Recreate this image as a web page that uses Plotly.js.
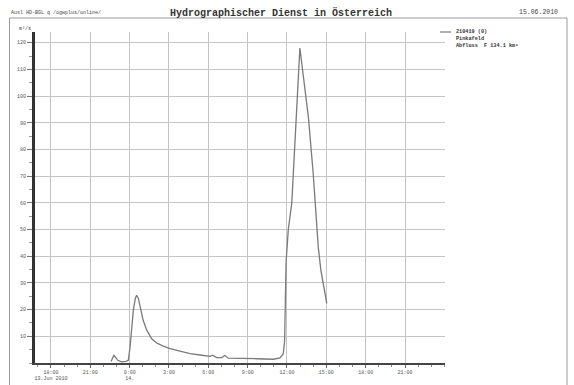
<!DOCTYPE html>
<html>
<head>
<meta charset="utf-8">
<script src="https://cdn.plot.ly/plotly-3.0.1.min.js"></script>
<style>
  html, body { margin: 0; padding: 0; background: #fff; }
  #chart { width: 574px; height: 385px; }
</style>
</head>
<body>
<div id="chart"></div>
<script>
// Discharge record, gauge 210419 Pinkafeld (m³/s)
const times = [
  '2010-06-13 22:35', '2010-06-13 22:48', '2010-06-13 23:06', '2010-06-13 23:23',
  '2010-06-13 23:43', '2010-06-13 23:54', '2010-06-14 00:02', '2010-06-14 00:09',
  '2010-06-14 00:17', '2010-06-14 00:26', '2010-06-14 00:32', '2010-06-14 00:40',
  '2010-06-14 00:51', '2010-06-14 01:02', '2010-06-14 01:18', '2010-06-14 01:41',
  '2010-06-14 02:04', '2010-06-14 02:34', '2010-06-14 03:05', '2010-06-14 03:51',
  '2010-06-14 04:36', '2010-06-14 05:22', '2010-06-14 06:08', '2010-06-14 06:20',
  '2010-06-14 06:38', '2010-06-14 07:01', '2010-06-14 07:16', '2010-06-14 07:31',
  '2010-06-14 08:25', '2010-06-14 09:41', '2010-06-14 10:58', '2010-06-14 11:28',
  '2010-06-14 11:43', '2010-06-14 11:49', '2010-06-14 11:56', '2010-06-14 12:06',
  '2010-06-14 12:22', '2010-06-14 12:44', '2010-06-14 12:59', '2010-06-14 13:38',
  '2010-06-14 14:00', '2010-06-14 14:23', '2010-06-14 14:35', '2010-06-14 15:02'
];
const discharge = [
  0.6, 2.9, 1.0, 0.4,
  0.6, 1.0, 6.0, 13.5,
  19.8, 24.2, 25.4, 24.2,
  20.4, 16.0, 12.3, 9.1,
  7.5, 6.3, 5.4, 4.4,
  3.5, 3.0, 2.5, 2.9,
  2.0, 2.0, 2.8, 1.8,
  1.6, 1.6, 1.4, 1.9,
  3.5, 8.0, 38.0, 50.0,
  60.0, 92.0, 118.0, 92.0,
  71.0, 43.5, 34.8, 22.3
];

const tickTimes = [
  '2010-06-13 18:00', '2010-06-13 21:00', '2010-06-14 00:00', '2010-06-14 03:00',
  '2010-06-14 06:00', '2010-06-14 09:00', '2010-06-14 12:00', '2010-06-14 15:00',
  '2010-06-14 18:00', '2010-06-14 21:00'
];
const tickLabels = [
  '18:00<br>13.Jun 2010', '21:00', '0:00<br>14.', '3:00',
  '6:00', '9:00', '12:00', '15:00',
  '18:00', '21:00'
];
const yTicks = [10, 20, 30, 40, 50, 60, 70, 80, 90, 100, 110, 120];
const legendLines = ['210419 (0)', 'Pinkafeld', 'Abfluss  F 134.1 km²'];

const FIG_W = 574, FIG_H = 385;
const M = { l: 35, r: 129, t: 32, b: 22 };
const PW = FIG_W - M.l - M.r, PH = FIG_H - M.t - M.b;
// pixel position -> paper fraction of the plot area
const xp = px => (px - M.l) / PW;
const yp = py => (FIG_H - M.b - py) / PH;

const mono = 'Liberation Mono, Courier New, monospace';

const trace = {
  x: times, y: discharge, type: 'scatter', mode: 'lines',
  line: { color: '#7a7a7a', width: 1.3 },
  showlegend: false, hoverinfo: 'skip'
};

const annotations = [
  { text: 'Ausl HD-BGL q /ogwplus/online/', x: xp(10), y: yp(13),
    xref: 'paper', yref: 'paper', showarrow: false, xanchor: 'left', yanchor: 'middle',
    borderpad: 0, font: { family: mono, size: 5, color: '#444' } },
  { text: '15.06.2010', x: xp(559), y: yp(12),
    xref: 'paper', yref: 'paper', showarrow: false, xanchor: 'right', yanchor: 'middle',
    borderpad: 0, font: { family: mono, size: 6.5, color: '#444' } },
  { text: 'm³/s', x: xp(25), y: yp(29), xref: 'paper', yref: 'paper',
    showarrow: false, xanchor: 'center', yanchor: 'middle',
    borderpad: 0, font: { family: mono, size: 5, color: '#444' } },
  { text: legendLines.join('<br>'), x: xp(455), y: yp(28.5), xref: 'paper', yref: 'paper',
    showarrow: false, xanchor: 'left', yanchor: 'top', align: 'left',
    borderpad: 0, font: { family: mono, size: 5.2, color: '#333', weight: 'bold' } }
];

const shapes = [
  // outer frame
  { type: 'rect', xref: 'paper', yref: 'paper',
    x0: xp(9.5), x1: xp(567), y0: yp(388), y1: yp(18),
    line: { color: '#9a9a9a', width: 1 } },
  // legend line sample
  { type: 'line', xref: 'paper', yref: 'paper',
    x0: xp(440), x1: xp(451), y0: yp(32), y1: yp(32),
    line: { color: '#7a7a7a', width: 1.2 } }
];

const layout = {
  width: FIG_W, height: FIG_H,
  margin: M,
  paper_bgcolor: '#fff', plot_bgcolor: '#fff',
  title: {
    text: 'Hydrographischer Dienst in Österreich',
    x: 281 / FIG_W, xref: 'container', xanchor: 'center',
    y: 1 - 12 / FIG_H, yref: 'container', yanchor: 'middle',
    font: { family: mono, size: 10, color: '#333', weight: 'bold' }
  },
  xaxis: {
    type: 'date',
    range: ['2010-06-13 16:47', '2010-06-15 00:03'],
    tickmode: 'array', tickvals: tickTimes, ticktext: tickLabels,
    ticks: 'outside', ticklen: 3, tickcolor: '#666', tickwidth: 1,
    tickfont: { family: mono, size: 5, color: '#555' },
    showgrid: true, gridcolor: '#c4c4c4', gridwidth: 1,
    minor: { dtick: 3600000, tick0: '2010-06-13 00:00', ticks: 'outside',
             ticklen: 2, tickcolor: '#888', showgrid: false },
    showline: true, linecolor: '#444', linewidth: 1.5,
    zeroline: false, fixedrange: true
  },
  yaxis: {
    range: [0, 124],
    tickmode: 'array', tickvals: yTicks,
    ticks: 'outside', ticklen: 5, tickcolor: '#777', tickwidth: 1,
    tickfont: { family: mono, size: 5, color: '#555' },
    showgrid: true, gridcolor: '#c4c4c4', gridwidth: 1,
    minor: { dtick: 5, ticks: 'outside', ticklen: 3, tickcolor: '#999', showgrid: false },
    showline: true, linecolor: '#333', linewidth: 3,
    zeroline: false, fixedrange: true
  },
  annotations: annotations,
  shapes: shapes
};

Plotly.newPlot('chart', [trace], layout, { staticPlot: true, displayModeBar: false });
</script>
</body>
</html>
